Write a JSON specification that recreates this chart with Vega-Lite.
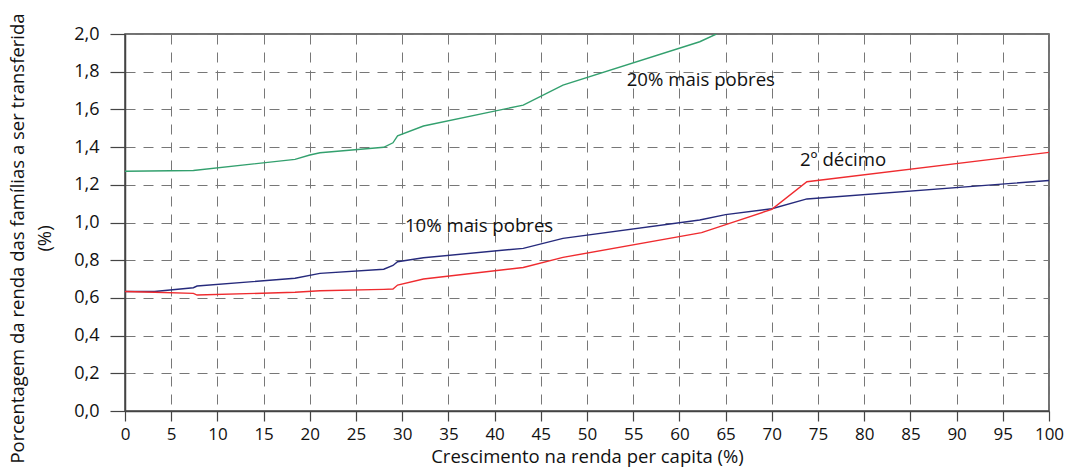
{
  "$schema": "https://vega.github.io/schema/vega-lite/v6.json",
  "width": 924,
  "height": 377,
  "autosize": {"type": "none"},
  "padding": {"left": 125, "top": 34, "right": 18, "bottom": 62},
  "background": "white",
  "config": {
    "font": "Open Sans",
    "view": {"stroke": "#444", "strokeWidth": 1.5},
    "axis": {
      "labelFont": "Open Sans",
      "titleFont": "Open Sans",
      "labelColor": "#111",
      "titleColor": "#111",
      "titleFontWeight": "normal",
      "domainColor": "#444",
      "domainWidth": 1.5,
      "tickColor": "#444",
      "tickWidth": 1.2,
      "gridColor": "#777",
      "gridWidth": 1,
      "gridDash": [10, 8],
      "labelOverlap": false
    }
  },
  "datasets": {
    "series": [
      {"grupo": "20% mais pobres", "x": 0, "y": 1.272},
      {"grupo": "20% mais pobres", "x": 7.4, "y": 1.276},
      {"grupo": "20% mais pobres", "x": 18.4, "y": 1.335},
      {"grupo": "20% mais pobres", "x": 20.0, "y": 1.358},
      {"grupo": "20% mais pobres", "x": 21.1, "y": 1.37},
      {"grupo": "20% mais pobres", "x": 28.0, "y": 1.399},
      {"grupo": "20% mais pobres", "x": 29.0, "y": 1.423},
      {"grupo": "20% mais pobres", "x": 29.5, "y": 1.46},
      {"grupo": "20% mais pobres", "x": 32.3, "y": 1.512},
      {"grupo": "20% mais pobres", "x": 43.1, "y": 1.623},
      {"grupo": "20% mais pobres", "x": 47.4, "y": 1.729},
      {"grupo": "20% mais pobres", "x": 62.2, "y": 1.959},
      {"grupo": "20% mais pobres", "x": 64.0, "y": 2.0},
      {"grupo": "10% mais pobres", "x": 0, "y": 0.634},
      {"grupo": "10% mais pobres", "x": 3.2, "y": 0.634},
      {"grupo": "10% mais pobres", "x": 7.4, "y": 0.654},
      {"grupo": "10% mais pobres", "x": 7.8, "y": 0.663},
      {"grupo": "10% mais pobres", "x": 18.4, "y": 0.704},
      {"grupo": "10% mais pobres", "x": 21.1, "y": 0.73},
      {"grupo": "10% mais pobres", "x": 28.0, "y": 0.752},
      {"grupo": "10% mais pobres", "x": 29.0, "y": 0.772},
      {"grupo": "10% mais pobres", "x": 29.5, "y": 0.792},
      {"grupo": "10% mais pobres", "x": 32.3, "y": 0.813},
      {"grupo": "10% mais pobres", "x": 43.1, "y": 0.863},
      {"grupo": "10% mais pobres", "x": 47.4, "y": 0.916},
      {"grupo": "10% mais pobres", "x": 62.2, "y": 1.013},
      {"grupo": "10% mais pobres", "x": 65.0, "y": 1.042},
      {"grupo": "10% mais pobres", "x": 70.0, "y": 1.073},
      {"grupo": "10% mais pobres", "x": 73.8, "y": 1.125},
      {"grupo": "10% mais pobres", "x": 100, "y": 1.223},
      {"grupo": "2º décimo", "x": 0, "y": 0.634},
      {"grupo": "2º décimo", "x": 3.2, "y": 0.63},
      {"grupo": "2º décimo", "x": 7.4, "y": 0.624},
      {"grupo": "2º décimo", "x": 7.8, "y": 0.615},
      {"grupo": "2º décimo", "x": 18.4, "y": 0.63},
      {"grupo": "2º décimo", "x": 21.1, "y": 0.638},
      {"grupo": "2º décimo", "x": 28.0, "y": 0.645},
      {"grupo": "2º décimo", "x": 29.0, "y": 0.647},
      {"grupo": "2º décimo", "x": 29.5, "y": 0.668},
      {"grupo": "2º décimo", "x": 32.3, "y": 0.70},
      {"grupo": "2º décimo", "x": 43.1, "y": 0.761},
      {"grupo": "2º décimo", "x": 47.4, "y": 0.815},
      {"grupo": "2º décimo", "x": 62.4, "y": 0.946},
      {"grupo": "2º décimo", "x": 65.1, "y": 0.99},
      {"grupo": "2º décimo", "x": 70.0, "y": 1.07},
      {"grupo": "2º décimo", "x": 73.8, "y": 1.216},
      {"grupo": "2º décimo", "x": 100, "y": 1.372}
    ],
    "rotulos": [
      {"texto": "20% mais pobres", "x": 54.3, "y": 1.756},
      {"texto": "10% mais pobres", "x": 30.3, "y": 0.981},
      {"texto": "2º décimo", "x": 73.05, "y": 1.332}
    ]
  },
  "layer": [
    {
      "data": {"name": "series"},
      "mark": {"type": "line", "strokeWidth": 1.4, "clip": true},
      "encoding": {
        "x": {
          "field": "x",
          "type": "quantitative",
          "scale": {"domain": [0, 100], "nice": false, "zero": false},
          "axis": {
            "values": [0,5,10,15,20,25,30,35,40,45,50,55,60,65,70,75,80,85,90,95,100],
            "tickCount": 30,
            "title": "Crescimento na renda per capita (%)",
            "titleFontSize": 18.5,
            "titlePadding": 5,
            "labelFontSize": 17,
            "labelPadding": 5,
            "tickSize": 10,
            "labelFlush": false,
            "grid": true
          }
        },
        "y": {
          "field": "y",
          "type": "quantitative",
          "scale": {"domain": [0, 2], "nice": false},
          "axis": {
            "values": [0,0.2,0.4,0.6,0.8,1.0,1.2,1.4,1.6,1.8,2.0],
            "tickCount": 20,
            "labelExpr": "replace(format(datum.value, '.1f'), '.', ',')",
            "title": ["Porcentagem da renda das famílias a ser  transferida", "(%)"],
            "titleFontSize": 18.5,
            "titleLineHeight": 27,
            "titlePadding": 19,
            "titleY": 204,
            "labelFontSize": 18,
            "labelPadding": 11,
            "tickSize": 15,
            "labelFlush": false,
            "grid": true
          }
        },
        "color": {
          "field": "grupo",
          "type": "nominal",
          "scale": {
            "domain": ["20% mais pobres", "10% mais pobres", "2º décimo"],
            "range": ["#33a06e", "#262a7c", "#ef2b2f"]
          },
          "legend": null
        }
      }
    },
    {
      "data": {"name": "rotulos"},
      "mark": {"type": "text", "align": "left", "baseline": "middle", "fontSize": 18.6, "font": "Open Sans", "color": "#111"},
      "encoding": {
        "x": {"field": "x", "type": "quantitative"},
        "y": {"field": "y", "type": "quantitative"},
        "text": {"field": "texto"}
      }
    }
  ]
}
